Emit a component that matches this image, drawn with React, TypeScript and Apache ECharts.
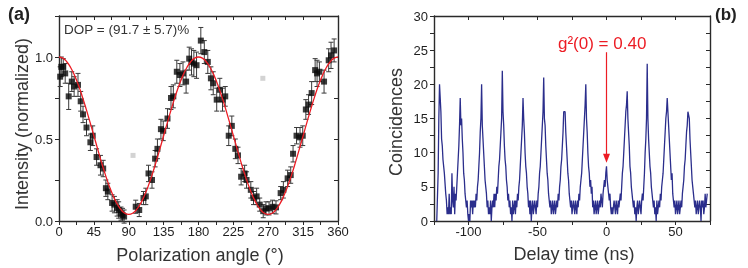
import React, { useEffect, useRef } from "react";
import * as echarts from "echarts";

// ---------- Panel (a): polarization data ----------
const angles = [1.5, 3, 5.5, 8, 12.5, 16.5, 19.5, 24.5, 28, 31, 35.5, 40.5, 43.5, 48.5, 53.5, 57, 60.5, 63, 68.5, 71.5, 75, 77, 80, 82, 84,
  99, 103.5, 109, 112, 115.5, 120, 124, 127, 131.5, 134.5, 140, 144.5, 147.5, 152, 156, 160, 164, 168, 171, 174, 177.5,
  183, 187.5, 192, 196, 199, 203.5, 207.5, 211, 214.5, 219, 223, 227.5, 231, 235, 239.5, 242, 247.5, 251, 255, 259, 263.5,
  267, 271, 275.5, 280, 286, 289.5, 295, 299, 302, 306.5, 311, 314.5, 318.5, 322, 326, 330.5, 333, 336, 342, 348, 351, 355];
const intensity = [0.88, 0.94, 0.94, 0.90, 0.76, 0.85, 0.82, 0.83, 0.73, 0.65, 0.57, 0.48, 0.52, 0.39, 0.34, 0.32, 0.20, 0.18, 0.11, 0.10, 0.08, 0.067, 0.045, 0.037, 0.027,
  0.087, 0.067, 0.14, 0.15, 0.29, 0.25, 0.38, 0.44, 0.56, 0.55, 0.625, 0.75, 0.76, 0.91, 0.89, 0.90, 0.85, 0.99, 0.97, 0.96, 0.95,
  1.10, 1.03, 0.97, 0.87, 0.84, 0.74, 0.80, 0.74, 0.76, 0.52, 0.58, 0.44, 0.40, 0.27, 0.29, 0.25, 0.19, 0.14, 0.15, 0.10, 0.06,
  0.077, 0.077, 0.087, 0.083, 0.17, 0.19, 0.26, 0.28, 0.41, 0.52, 0.51, 0.52, 0.68, 0.71, 0.78, 0.92, 0.90, 0.91, 0.85, 0.98, 1.01, 1.04];
const errors = [0.06, 0.06, 0.05, 0.06, 0.08, 0.06, 0.06, 0.07, 0.06, 0.05, 0.05, 0.05, 0.06, 0.05, 0.06, 0.05, 0.05, 0.05, 0.05, 0.05, 0.05, 0.05, 0.04, 0.04, 0.04,
  0.04, 0.04, 0.04, 0.05, 0.05, 0.05, 0.05, 0.06, 0.06, 0.06, 0.06, 0.07, 0.07, 0.07, 0.07, 0.07, 0.07, 0.07, 0.08, 0.08, 0.08,
  0.08, 0.07, 0.07, 0.07, 0.07, 0.07, 0.07, 0.07, 0.06, 0.06, 0.06, 0.06, 0.05, 0.05, 0.05, 0.05, 0.05, 0.04, 0.05, 0.04, 0.04,
  0.04, 0.04, 0.04, 0.04, 0.04, 0.05, 0.05, 0.05, 0.05, 0.05, 0.06, 0.06, 0.06, 0.06, 0.07, 0.07, 0.08, 0.06, 0.07, 0.07, 0.08, 0.07];
const greyAngles = [95.5, 263];
const greyValues = [0.40, 0.87];
// fitted curve read every 5 degrees
const fitAngles = Array.from({ length: 73 }, (_, i) => i * 5);
const fitValues = [1.0, 0.993, 0.971, 0.936, 0.888, 0.829, 0.76, 0.684, 0.603, 0.52, 0.437, 0.356, 0.28, 0.211, 0.152, 0.104, 0.069, 0.047, 0.04,
  0.047, 0.069, 0.104, 0.152, 0.211, 0.28, 0.356, 0.437, 0.52, 0.603, 0.684, 0.76, 0.829, 0.888, 0.936, 0.971, 0.993, 1.0,
  0.993, 0.971, 0.936, 0.888, 0.829, 0.76, 0.684, 0.603, 0.52, 0.437, 0.356, 0.28, 0.211, 0.152, 0.104, 0.069, 0.047, 0.04,
  0.047, 0.069, 0.104, 0.152, 0.211, 0.28, 0.356, 0.437, 0.52, 0.603, 0.684, 0.76, 0.829, 0.888, 0.936, 0.971, 0.993, 1.0];

// ---------- Panel (b): coincidence histogram (0.5 ns bins from -123 ns) ----------
const delayStart = -123;
const delayStep = 0.5;
const counts = [
  0, 0, 7, 15, 20, 18, 16, 12, 11, 9, 9, 7, 7, 4, 3, 1, 2, 1, 4, 1, 2, 1, 7, 3, 2, 5, 1, 4, 3, 5,
  7, 9, 11, 14, 18, 14, 15, 12, 10, 7, 6, 4, 3, 2, 3, 1, 0, 1, 0, 3, 2, 3, 1, 3, 2, 3, 2, 4, 3, 5,
  6, 8, 10, 13, 15, 20, 14, 12, 10, 8, 6, 5, 4, 2, 3, 1, 2, 1, 3, 0, 2, 3, 2, 4, 2, 4, 3, 5, 4, 6,
  8, 9, 11, 13, 15, 22, 16, 14, 11, 9, 8, 6, 5, 3, 4, 2, 3, 1, 2, 0, 3, 1, 2, 3, 1, 3, 2, 4, 3, 5,
  6, 8, 10, 12, 14, 18, 15, 13, 10, 8, 7, 5, 4, 2, 3, 1, 3, 0, 2, 3, 1, 2, 3, 2, 1, 3, 2, 4, 5, 7,
  8, 10, 12, 14, 16, 21, 15, 14, 11, 9, 7, 6, 4, 3, 2, 3, 1, 2, 3, 1, 2, 3, 1, 2, 3, 2, 4, 3, 5, 6,
  8, 9, 11, 13, 16, 16, 16, 13, 11, 9, 7, 6, 4, 3, 2, 3, 1, 2, 3, 2, 1, 3, 2, 1, 3, 2, 4, 3, 5, 6,
  7, 9, 11, 13, 15, 17, 20, 15, 13, 10, 8, 7, 5, 6, 4, 5, 2, 3, 1, 2, 3, 1, 2, 3, 1, 2, 3, 2, 4, 3,
  2, 4, 5, 6, 5, 7, 8, 6, 5, 5, 3, 4, 2, 1, 2, 1, 2, 3, 2, 1, 3, 2, 1, 3, 2, 3, 4, 3, 5, 7,
  8, 10, 12, 14, 16, 17, 19, 15, 13, 11, 8, 7, 5, 4, 3, 2, 3, 1, 2, 0, 2, 3, 1, 2, 3, 2, 1, 3, 4, 3,
  5, 7, 10, 12, 15, 23, 15, 12, 10, 8, 7, 5, 4, 3, 2, 3, 1, 2, 0, 3, 1, 2, 3, 2, 4, 3, 5, 6, 7, 9,
  11, 13, 15, 16, 18, 18, 14, 12, 10, 8, 6, 7, 4, 3, 2, 3, 1, 2, 3, 1, 2, 3, 1, 2, 3, 2, 4, 5, 6, 8,
  9, 11, 13, 14, 16, 16, 15, 12, 10, 8, 6, 5, 4, 3, 2, 3, 1, 2, 3, 1, 2, 3, 2, 0, 3, 2, 3, 1, 2, 4,
  2, 3, 4,
];
const arrowFrom = 24.7;
const arrowTo = 9.2;

const FONT = "'Liberation Sans', Arial, sans-serif";
const AX = "#2a2a2a";
const RED = "#ec1c24";
const BLUE = "#2b2e8c";

function mkAxis(kind: "x" | "y", grid: number, pos: string, min: number, max: number, interval: number, fmt: ((v: number) => string) | null, mirror: boolean) {
  return {
    type: "value",
    gridIndex: grid,
    position: pos,
    min, max, interval,
    axisLine: { show: true, onZero: false, lineStyle: { color: AX, width: 1.4 } },
    axisTick: { show: true, inside: mirror, length: 4, lineStyle: { color: AX, width: 1 } },
    axisLabel: fmt
      ? { show: true, formatter: fmt, color: "#1e1e1e", fontSize: 13, fontFamily: FONT, margin: kind === "x" ? 4 : 6 }
      : { show: false },
    splitLine: { show: false },
  };
}

export default function App() {
  const ref = useRef<HTMLDivElement>(null);
  useEffect(() => {
    if (!ref.current) return;
    const chart = echarts.init(ref.current, null, { renderer: "svg" });
    const isMult = (v: number, m: number) => Math.abs(v / m - Math.round(v / m)) < 1e-6;

    const errData = angles.map((a, i) => [a, intensity[i] - errors[i], intensity[i] + errors[i]]);
    const pts = angles.map((a, i) => [a, intensity[i]]);
    const grey = greyAngles.map((a, i) => [a, greyValues[i]]);
    const fit = fitAngles.map((a, i) => [a, fitValues[i]]);
    const trace = counts.map((c, i) => [delayStart + i * delayStep, c]);

    chart.setOption({
      animation: false,
      grid: [
        { left: 59, top: 16, width: 279, height: 205 },
        { left: 434, top: 16, width: 276, height: 205 },
      ],
      xAxis: [
        mkAxis("x", 0, "bottom", 0, 360, 22.5, (v) => (isMult(v, 45) ? String(v) : ""), false),
        mkAxis("x", 0, "top", 0, 360, 22.5, null, true),
        mkAxis("x", 1, "bottom", -125, 75, 25, (v) => (isMult(v, 50) ? String(v) : ""), false),
        mkAxis("x", 1, "top", -125, 75, 25, null, true),
      ],
      yAxis: [
        mkAxis("y", 0, "left", 0, 1.25, 0.25, (v) => (isMult(v, 0.5) ? v.toFixed(1) : ""), false),
        mkAxis("y", 0, "right", 0, 1.25, 0.25, null, true),
        mkAxis("y", 1, "left", 0, 30, 2.5, (v) => (isMult(v, 5) ? String(v) : ""), false),
        mkAxis("y", 1, "right", 0, 30, 2.5, null, true),
      ],
      series: [
        {
          type: "custom",
          xAxisIndex: 0, yAxisIndex: 0,
          data: errData,
          encode: { x: 0, y: [1, 2] },
          renderItem: (params: any, api: any) => {
            const x = api.value(0);
            const lo = api.coord([x, api.value(1)]);
            const hi = api.coord([x, api.value(2)]);
            const st = { stroke: "#3a3a3a", lineWidth: 1 };
            return {
              type: "group",
              children: [
                { type: "line", shape: { x1: lo[0], y1: lo[1], x2: hi[0], y2: hi[1] }, style: st },
                { type: "line", shape: { x1: lo[0] - 2.5, y1: lo[1], x2: lo[0] + 2.5, y2: lo[1] }, style: st },
                { type: "line", shape: { x1: hi[0] - 2.5, y1: hi[1], x2: hi[0] + 2.5, y2: hi[1] }, style: st },
              ],
            };
          },
          z: 2,
        },
        {
          type: "scatter", xAxisIndex: 0, yAxisIndex: 0, data: pts,
          symbol: "rect", symbolSize: 6, itemStyle: { color: "#0a0a0a" }, z: 3,
        },
        {
          type: "scatter", xAxisIndex: 0, yAxisIndex: 0, data: grey,
          symbol: "rect", symbolSize: 5, itemStyle: { color: "#c8c8c8" }, z: 3,
        },
        {
          type: "line", xAxisIndex: 0, yAxisIndex: 0, data: fit, smooth: true,
          showSymbol: false, lineStyle: { color: RED, width: 1.3 }, z: 4,
        },
        {
          type: "line", xAxisIndex: 2, yAxisIndex: 2, data: trace,
          showSymbol: false, lineStyle: { color: BLUE, width: 1.3 }, z: 2,
          markLine: {
            silent: true,
            symbol: ["none", "triangle"],
            symbolSize: [7, 9],
            label: { show: false },
            lineStyle: { color: RED, width: 1.2, type: "solid" },
            data: [[{ coord: [0, arrowFrom] }, { coord: [0, arrowTo] }]],
          },
        },
      ],
      graphic: [
        { type: "text", left: 8, top: 5, style: { text: "(a)", fontSize: 18, fontWeight: "bold", fontFamily: FONT, fill: "#222" } },
        { type: "text", left: 715, top: 6, style: { text: "(b)", fontSize: 17, fontWeight: "bold", fontFamily: FONT, fill: "#222" } },
        { type: "text", left: 64, top: 22, style: { text: "DOP = (91.7 \u00B1 5.7)%", fontSize: 13.5, fontFamily: FONT, fill: "#333" } },
        { type: "text", left: 558, top: 35, style: { text: "g\u00B2(0) = 0.40", fontSize: 17, fontFamily: FONT, fill: RED } },
        { type: "text", x: 200, y: 255, style: { text: "Polarization angle (\u00B0)", fontSize: 18, fontFamily: FONT, fill: "#333", align: "center", verticalAlign: "middle" } },
        { type: "text", x: 574, y: 254, style: { text: "Delay time (ns)", fontSize: 18, fontFamily: FONT, fill: "#333", align: "center", verticalAlign: "middle" } },
        { type: "text", x: 22, y: 124, rotation: Math.PI / 2, style: { text: "Intensity (normalized)", fontSize: 18, fontFamily: FONT, fill: "#333", align: "center", verticalAlign: "middle" } },
        { type: "text", x: 396, y: 122, rotation: Math.PI / 2, style: { text: "Coincidences", fontSize: 18, fontFamily: FONT, fill: "#333", align: "center", verticalAlign: "middle" } },
      ],
    });
    return () => chart.dispose();
  }, []);
  return <div ref={ref} style={{ position: "fixed", left: 0, top: 0, width: 748, height: 268 }} />;
}
